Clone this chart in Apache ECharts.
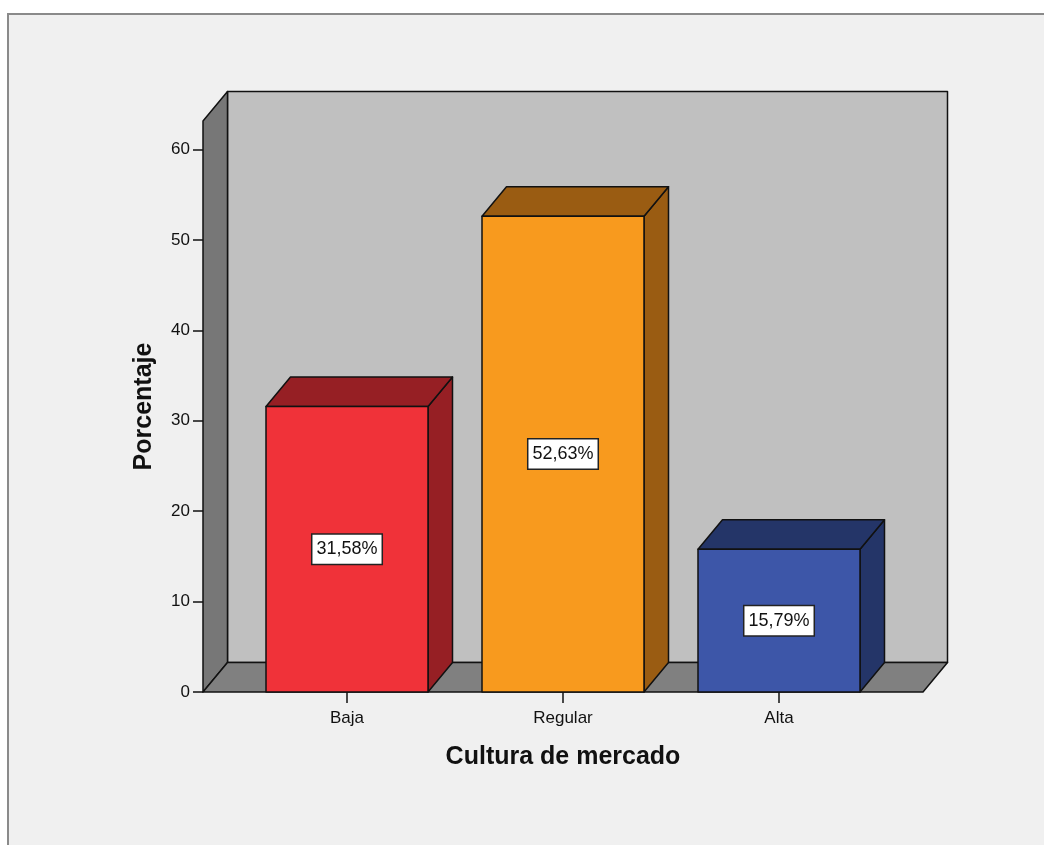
<!DOCTYPE html>
<html>
<head>
<meta charset="utf-8">
<script src="https://cdn.jsdelivr.net/npm/echarts@6/dist/echarts.min.js"></script>
<style>
  html, body { margin: 0; padding: 0; background: #ffffff; }
  #chart { width: 1044px; height: 845px; }
</style>
</head>
<body>
<div id="chart"></div>
<script>
// Distribution of "Cultura de mercado" levels (percent of respondents)
const categories = ['Baja', 'Regular', 'Alta'];
const percentages = [31.58, 52.63, 15.79];
const yTicks = [0, 10, 20, 30, 40, 50, 60];
const yMax = 63.16;

const frontColors = ['#f03239', '#f89a1e', '#3d56a8'];
const shadeColors = ['#961f24', '#9a5c12', '#243568'];

// pseudo-3D depth offset, in pixels
const DX = 24.5, DY = -29.5;
// the box reaches two thirds of a category band past the outer bar centres
const BAND_MARGIN = 2 / 3;
const FONT = '"Liberation Sans", Arial, sans-serif';
const EDGE = '#111111';

function fmtPct(v) {
  return v.toFixed(2).replace('.', ',') + '%';
}

// back wall, left wall and floor of the box
function renderFrame(params, api) {
  const band = api.size([1, 0])[0];
  const first = api.coord([0, 0]);
  const last = api.coord([categories.length - 1, 0]);
  const x0 = first[0] - band * BAND_MARGIN;
  const x1 = last[0] + band * BAND_MARGIN;
  const yb = first[1];
  const yt = api.coord([0, yMax])[1];
  const line = { stroke: EDGE, lineWidth: 1.5, lineJoin: 'round' };
  return {
    type: 'group',
    children: [
      {
        type: 'polygon',
        shape: { points: [[x0 + DX, yt + DY], [x1 + DX, yt + DY], [x1 + DX, yb + DY], [x0 + DX, yb + DY]] },
        style: Object.assign({ fill: '#c0c0c0' }, line)
      },
      {
        type: 'polygon',
        shape: { points: [[x0, yb], [x0, yt], [x0 + DX, yt + DY], [x0 + DX, yb + DY]] },
        style: Object.assign({ fill: '#777777' }, line)
      },
      {
        type: 'polygon',
        shape: { points: [[x0, yb], [x1, yb], [x1 + DX, yb + DY], [x0 + DX, yb + DY]] },
        style: Object.assign({ fill: '#808080' }, line)
      }
    ]
  };
}

// one box-shaped bar with its value tag
function renderBar(params, api) {
  const i = api.value(0);
  const v = api.value(1);
  const base = api.coord([i, 0]);
  const top = api.coord([i, v]);
  const w = api.size([1, 0])[0] * 0.75;
  const xl = base[0] - w / 2, xr = base[0] + w / 2;
  const yb = base[1], yt = top[1];
  const line = { stroke: EDGE, lineWidth: 1.5, lineJoin: 'round' };
  return {
    type: 'group',
    children: [
      {
        type: 'polygon',
        shape: { points: [[xr, yt], [xr, yb], [xr + DX, yb + DY], [xr + DX, yt + DY]] },
        style: Object.assign({ fill: shadeColors[i] }, line)
      },
      {
        type: 'polygon',
        shape: { points: [[xl, yt], [xr, yt], [xr + DX, yt + DY], [xl + DX, yt + DY]] },
        style: Object.assign({ fill: shadeColors[i] }, line)
      },
      {
        type: 'rect',
        shape: { x: xl, y: yt, width: w, height: yb - yt },
        style: Object.assign({ fill: frontColors[i] }, line)
      },
      {
        type: 'text',
        style: {
          text: fmtPct(v),
          x: base[0],
          y: (yt + yb) / 2,
          align: 'center',
          verticalAlign: 'middle',
          fill: '#111111',
          font: '18px ' + FONT,
          backgroundColor: '#ffffff',
          borderColor: '#222222',
          borderWidth: 1.5,
          padding: [6, 4, 5, 4]
        }
      }
    ]
  };
}

const chart = echarts.init(document.getElementById('chart'), null, { renderer: 'canvas' });

const GRID_LEFT = 239;
const GRID_RIGHT = 157;
const BAND = (1044 - GRID_LEFT - GRID_RIGHT) / categories.length;

chart.setOption({
  animation: false,
  backgroundColor: '#ffffff',
  graphic: [
    {
      type: 'rect',
      z: -10,
      silent: true,
      shape: { x: 8, y: 14, width: 1100, height: 900 },
      style: { fill: '#f0f0f0', stroke: '#8a8a8a', lineWidth: 2 }
    }
  ],
  grid: { left: GRID_LEFT, right: GRID_RIGHT, top: 121, bottom: 153 },
  xAxis: {
    type: 'category',
    data: categories,
    boundaryGap: true,
    axisLine: { show: false },
    axisTick: { show: true, alignWithLabel: true, length: 11, lineStyle: { color: '#111', width: 1.5 } },
    axisLabel: { color: '#111', fontSize: 17, fontFamily: FONT, margin: 18 },
    splitLine: { show: false },
    name: 'Cultura de mercado',
    nameLocation: 'middle',
    nameGap: 53,
    nameTextStyle: { color: '#111', fontSize: 25, fontWeight: 'bold', fontFamily: FONT }
  },
  yAxis: {
    type: 'value',
    min: 0,
    max: yMax,
    // the axis sits on the front edge of the left wall, left of the first band
    offset: BAND * (BAND_MARGIN - 0.5),
    axisLine: { show: false },
    axisTick: { show: true, length: 10, customValues: yTicks, lineStyle: { color: '#111', width: 1.5 } },
    axisLabel: { color: '#111', fontSize: 17, fontFamily: FONT, margin: 13, customValues: yTicks },
    splitLine: { show: false },
    name: 'Porcentaje',
    nameLocation: 'middle',
    nameGap: 46,
    nameTextStyle: { color: '#111', fontSize: 25, fontWeight: 'bold', fontFamily: FONT }
  },
  series: [
    {
      type: 'custom',
      name: 'frame',
      clip: false,
      silent: true,
      z: 1,
      renderItem: renderFrame,
      data: [[0, 0]]
    },
    {
      type: 'custom',
      name: 'Porcentaje',
      clip: false,
      z: 2,
      renderItem: renderBar,
      encode: { x: 0, y: 1 },
      data: percentages.map((v, i) => [i, v])
    }
  ]
});
</script>
</body>
</html>
